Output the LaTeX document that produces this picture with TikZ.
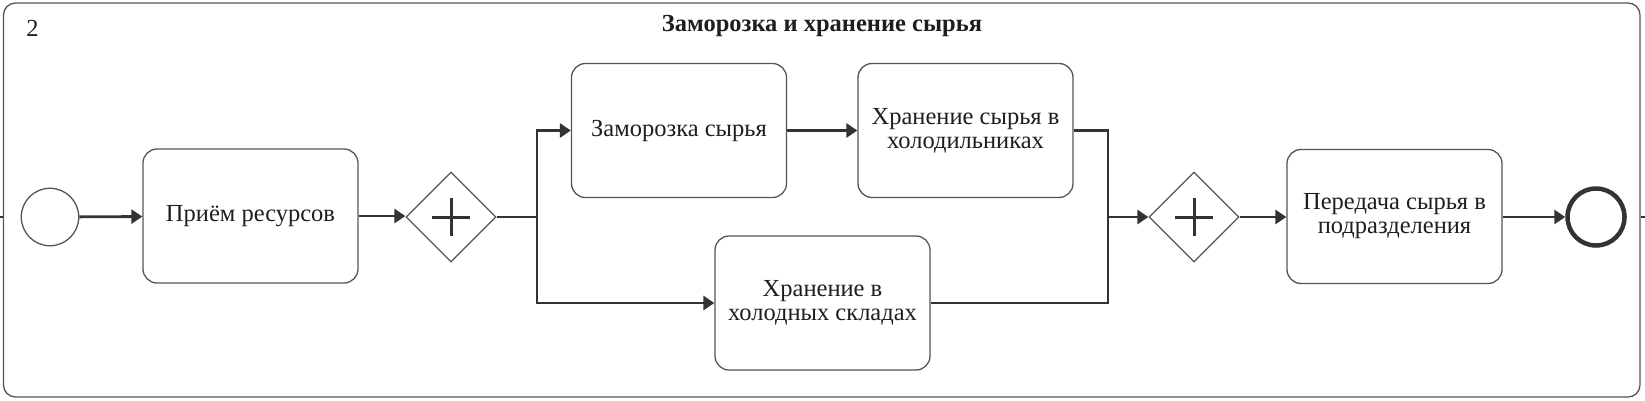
\documentclass[tikz,border=0pt]{standalone}
\usepackage{fontspec}
\setmainfont{Liberation Serif}
\usetikzlibrary{arrows.meta,shapes.geometric}
\definecolor{boxgray}{HTML}{555555}
\definecolor{flowgray}{HTML}{333333}
\definecolor{txt}{HTML}{1E1E1E}
\begin{document}
\begin{tikzpicture}[x=1pt,y=-1pt,
  txtfont/.style={font=\fontsize{24.5}{24}\selectfont},
  task/.style={draw=boxgray,line width=1.3pt,rounded corners=14pt,minimum width=215pt,minimum height=134pt,align=center,inner sep=0pt,text=txt,txtfont},
  gateway/.style={draw=boxgray,line width=1.3pt,diamond,aspect=1,minimum width=90pt,minimum height=90pt,inner sep=0pt},
  startev/.style={draw=boxgray,line width=1.3pt,circle,minimum size=57.5pt,inner sep=0pt},
  endev/.style={draw=flowgray,line width=4.5pt,circle,minimum size=57pt,inner sep=0pt},
  flow/.style={draw=flowgray,line width=2.8pt},
  flowarrow/.style={flow,-{Triangle[length=11pt,width=14pt]}},
  plussign/.style={draw=flowgray,line width=3pt},
  poolframe/.style={draw=boxgray,line width=1.3pt,rounded corners=12pt,minimum width=1636.5pt,minimum height=394pt,inner sep=0pt},
  stub/.style={draw=flowgray,line width=1.5pt}
]
\useasboundingbox (0,0) rectangle (1645,400);
\node[poolframe] (pool) at (821.75,200) {};
\node[text=txt,txtfont] (num) at (32.5,28) {2};
\node[text=txt,font=\bfseries\fontsize{24.5}{24}\selectfont] (title) at (822,26) {Заморозка и хранение сырья};

\node[startev] (start) at (50,217) {};
\node[task] (t1) at (250.5,216) {Приём ресурсов};
\node[gateway] (g1) at (451,217) {};
\node[task] (t2) at (679,130.5) {Заморозка сырья};
\node[task] (t3) at (965.5,130.5) {Хранение сырья в\\холодильниках};
\node[task] (t4) at (822.5,303) {Хранение в\\холодных складах};
\node[gateway] (g2) at (1194,217) {};
\node[task] (t5) at (1394.5,216.5) {Передача сырья в\\подразделения};
\node[endev] (end) at (1596,217) {};

\draw[plussign] ([xshift=-19pt]g1.center) -- ([xshift=19pt]g1.center);
\draw[plussign] ([yshift=-19pt]g1.center) -- ([yshift=19pt]g1.center);
\draw[plussign] ([xshift=-19pt]g2.center) -- ([xshift=19pt]g2.center);
\draw[plussign] ([yshift=-19pt]g2.center) -- ([yshift=19pt]g2.center);

\coordinate (split) at (537,217);
\coordinate (merge) at (1108,217);
\coordinate (inL) at (0,217);
\coordinate (outR) at (1645,217);

\draw[stub] (inL) -- (inL -| pool.west);
\draw[stub] (outR) -- (outR -| pool.east);

\draw[flowarrow] (start) -- (t1);
\draw[flowarrow] (t1) -- (t1 -| g1.west);
\draw[flow] (g1.east) -- (split);
\draw[flowarrow] (split) |- (t2.west);
\draw[flowarrow] (split) |- (t4.west);
\draw[flowarrow] (t2) -- (t3);
\draw[flow] (t3.east) -| (merge);
\draw[flow] (t4.east) -| (merge);
\draw[flowarrow] (merge) -- (g2.west);
\draw[flowarrow] (g2.east) -- (g2.east -| t5.west);
\draw[flowarrow] (t5.east |- end) -- (end);
\end{tikzpicture}
\end{document}
